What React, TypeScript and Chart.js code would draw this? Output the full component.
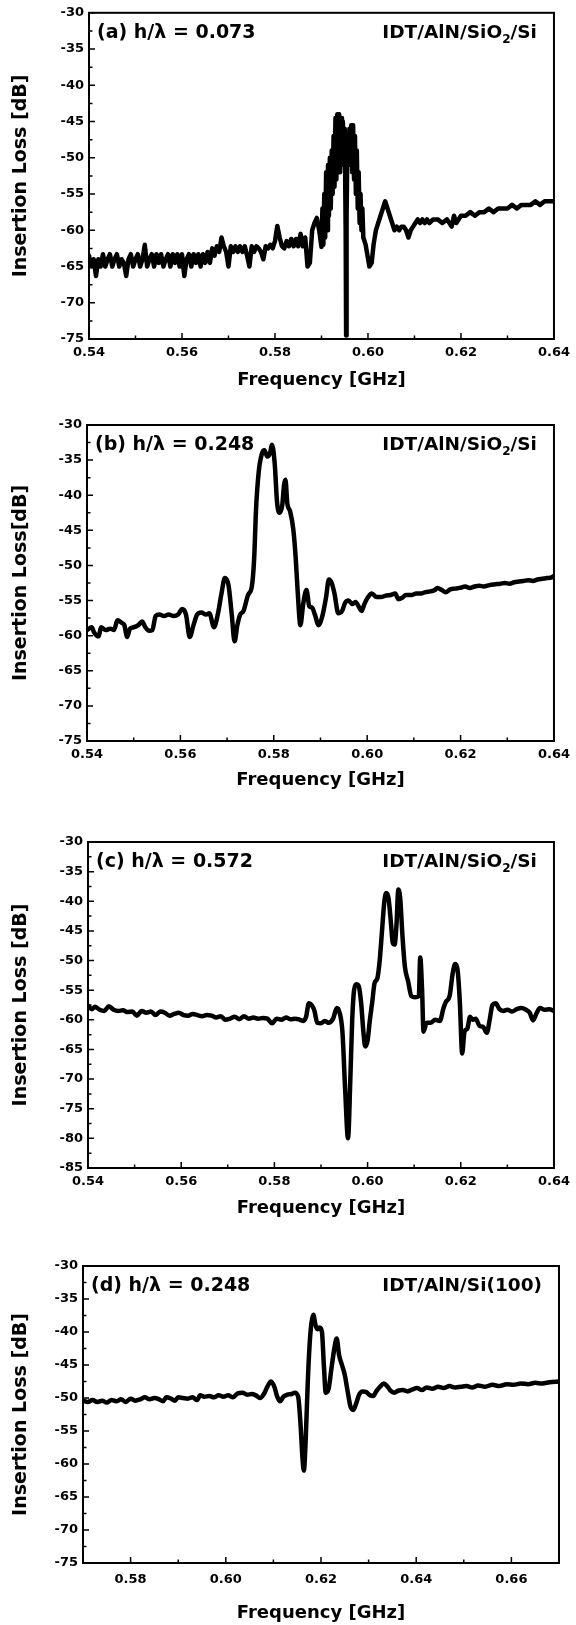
import React, { useEffect, useRef } from "react";
import { Chart, registerables } from "chart.js";

Chart.register(...registerables);

// ---------------- Data ----------------
const freqA = [
  0.5400, 0.5405, 0.5410, 0.5415, 0.5420, 0.5425, 0.5430, 0.5435, 0.5440, 0.5445,
  0.5450, 0.5455, 0.5460, 0.5465, 0.5470, 0.5475, 0.5480, 0.5485, 0.5490, 0.5495,
  0.5500, 0.5505, 0.5510, 0.5515, 0.5520, 0.5525, 0.5530, 0.5535, 0.5540, 0.5545,
  0.5550, 0.5555, 0.5560, 0.5565, 0.5570, 0.5575, 0.5580, 0.5585, 0.5590, 0.5595,
  0.5600, 0.5605, 0.5610, 0.5615, 0.5620, 0.5625, 0.5630, 0.5635, 0.5640, 0.5645,
  0.5650, 0.5655, 0.5660, 0.5665, 0.5670, 0.5675, 0.5680, 0.5685, 0.5690, 0.5695,
  0.5700, 0.5705, 0.5710, 0.5715, 0.5720, 0.5725, 0.5730, 0.5735, 0.5740, 0.5745,
  0.5750, 0.5755, 0.5760, 0.5765, 0.5770, 0.5775, 0.5780, 0.5785, 0.5790, 0.5795,
  0.5800, 0.5805, 0.5810, 0.5815, 0.5820, 0.5825, 0.5830, 0.5835, 0.5840, 0.5845,
  0.5850, 0.5855, 0.5860, 0.5865, 0.5870, 0.5875, 0.5880, 0.5885, 0.5890, 0.5895,
  0.5900, 0.5902, 0.5904, 0.5906, 0.5908, 0.5910, 0.5912, 0.5914, 0.5916, 0.5918,
  0.5920, 0.5922, 0.5924, 0.5926, 0.5928, 0.5930, 0.5932, 0.5934, 0.5936, 0.5938,
  0.5940, 0.5942, 0.5944, 0.5946, 0.5948, 0.5950, 0.5952, 0.5953, 0.5954, 0.5956,
  0.5958, 0.5960, 0.5962, 0.5964, 0.5966, 0.5968, 0.5970, 0.5972, 0.5974, 0.5976,
  0.5978, 0.5980, 0.5982, 0.5984, 0.5986, 0.5988, 0.5990, 0.5995, 0.5999, 0.6003,
  0.6008, 0.6012, 0.6017, 0.6022, 0.6027, 0.6032, 0.6037, 0.6042, 0.6047,
  0.6052, 0.6057, 0.6062, 0.6067, 0.6072, 0.6077, 0.6082, 0.6087, 0.6092, 0.6097,
  0.6102, 0.6107, 0.6112, 0.6117, 0.6122, 0.6127, 0.6132, 0.6140, 0.6150, 0.6160,
  0.6170, 0.6180, 0.6185, 0.6190, 0.6200, 0.6210, 0.6220, 0.6230, 0.6240, 0.6250,
  0.6260, 0.6270, 0.6280, 0.6290, 0.6300, 0.6310, 0.6320, 0.6330, 0.6340, 0.6350,
  0.6360, 0.6370, 0.6380, 0.6390, 0.6400,
];
const lossA = [
  -63.5, -65, -64, -66.3, -64, -65, -63.3, -65, -64, -63.3,
  -65, -64, -63.3, -65, -64, -64.5, -66.3, -64, -63.3, -65,
  -64, -63.3, -65, -64, -62, -65, -64, -63.3, -65, -63.3,
  -64.5, -63.3, -65, -64, -63.3, -65, -63.3, -64.5, -63.3, -65,
  -63.3, -66.3, -64, -63.3, -65, -63.3, -64.5, -63.3, -65, -63.3,
  -64.5, -63, -64.5, -62.5, -63.5, -62.2, -63, -61, -62.2, -63,
  -65, -62.2, -63, -62.2, -63, -62.2, -63, -62.2, -63.5, -65,
  -62.2, -63, -62.2, -62.5, -63, -64, -62.2, -62.5, -62, -62.5,
  -61.5, -59.4, -61, -62.2, -62.5, -61.5, -62.2, -61.2, -62.2, -61.2,
  -62.2, -60.5, -62.2, -61, -65, -64.5, -60, -59, -58.3, -60,
  -62.3, -57, -62, -55, -61, -52, -60, -51, -58, -50,
  -57, -49, -55, -47, -54, -44.5, -53, -44, -52, -44,
  -52, -44.5, -51, -45, -51, -46, -60, -74.5, -58, -47,
  -51, -46, -51, -45.5, -52, -45.5, -53, -47, -55, -49,
  -57, -52, -59, -55, -60, -57, -61, -62, -63.5, -65,
  -64.5, -62, -60, -59, -58, -57, -56, -57, -58,
  -59, -60, -59.5, -60, -59.5, -59.5, -60, -61, -60, -59.5,
  -59, -58.5, -59, -58.5, -59, -58.5, -59, -58.5, -58.5, -59,
  -58.5, -59.5, -58, -59, -58, -58, -57.5, -58, -57.5, -57.5,
  -57, -57.5, -57, -57, -57, -56.5, -57, -56.5, -56.5, -56.5,
  -56, -56.5, -56, -56, -56,
];

const freqB = [
  0.5400, 0.5410, 0.5415, 0.5425, 0.5430, 0.5440, 0.5450, 0.5458, 0.5465, 0.5475,
  0.5480, 0.5486, 0.5492, 0.5500, 0.5510, 0.5518, 0.5525, 0.5533, 0.5540, 0.5547,
  0.5555, 0.5565, 0.5575, 0.5585, 0.5595, 0.5604, 0.5612, 0.5620, 0.5628, 0.5636,
  0.5645, 0.5655, 0.5662, 0.5672, 0.5680, 0.5688, 0.5695, 0.5703, 0.5710, 0.5716,
  0.5722, 0.5728, 0.5735, 0.5745, 0.5753, 0.5758, 0.5762, 0.5768, 0.5775, 0.5780,
  0.5786, 0.5792, 0.5796, 0.5802, 0.5807, 0.5812, 0.5818, 0.5822, 0.5825, 0.5829,
  0.5835, 0.5842, 0.5847, 0.5851, 0.5857, 0.5863, 0.5870, 0.5876, 0.5882, 0.5888,
  0.5896, 0.5904, 0.5912, 0.5918, 0.5924, 0.5930, 0.5938, 0.5946, 0.5953, 0.5960,
  0.5968, 0.5975, 0.5983, 0.5988, 0.5994, 0.6002, 0.6010, 0.6020, 0.6030, 0.6040,
  0.6050, 0.6060, 0.6067, 0.6075, 0.6083, 0.6095, 0.6105, 0.6115, 0.6125, 0.6135,
  0.6145, 0.6150, 0.6160, 0.6168, 0.6178, 0.6188, 0.6198, 0.6210, 0.6220, 0.6230,
  0.6240, 0.6250, 0.6262, 0.6272, 0.6285, 0.6295, 0.6305, 0.6315, 0.6325, 0.6335,
  0.6345, 0.6355, 0.6365, 0.6375, 0.6385, 0.6395, 0.6400,
];
const lossB = [
  -59.2, -58.8, -59.5, -60.1, -58.8, -59.2, -59, -59.2, -57.8, -58.2,
  -58.5, -60.2, -59, -58.8, -58.5, -58, -58.8, -59.3, -59.2, -57.2,
  -57, -57.2, -57, -57.2, -57, -56.2, -57, -60.2, -58.5, -57,
  -56.7, -57, -56.8, -58.8, -57, -54, -51.8, -52.8, -57, -60.8,
  -58.5, -57, -56.5, -54.2, -53, -49, -42, -36.5, -34, -33.6,
  -34.5, -34, -32.8, -35.5, -41, -42.5, -41.5, -38.5, -37.8, -41.2,
  -42.3, -45, -49, -53.5, -58.5, -55.5, -53.5, -55.8, -56, -57,
  -58.5, -57.2, -54.5, -52, -52.5, -54, -56.8, -56.5, -55.3, -55,
  -55.5, -55.2, -56, -56.5, -55.5, -54.5, -54, -54.5, -54.5, -54.3,
  -54.2, -54, -54.8, -54.6, -54.2, -54.2, -54, -54, -53.8, -53.7,
  -53.5, -53.2, -53.5, -53.8, -53.4, -53.3, -53.2, -53, -53.2, -53,
  -52.9, -53, -52.8, -52.7, -52.6, -52.5, -52.6, -52.4, -52.3, -52.2,
  -52.1, -52.2, -52, -51.9, -51.8, -51.7, -51.5,
];

const freqC = [
  0.5400, 0.5408, 0.5415, 0.5425, 0.5435, 0.5445, 0.5455, 0.5465, 0.5475, 0.5485,
  0.5495, 0.5505, 0.5515, 0.5525, 0.5535, 0.5545, 0.5555, 0.5565, 0.5575, 0.5585,
  0.5595, 0.5605, 0.5615, 0.5625, 0.5635, 0.5645, 0.5655, 0.5665, 0.5675, 0.5685,
  0.5695, 0.5705, 0.5715, 0.5725, 0.5735, 0.5745, 0.5755, 0.5765, 0.5775, 0.5785,
  0.5795, 0.5805, 0.5815, 0.5825, 0.5835, 0.5845, 0.5855, 0.5862, 0.5868, 0.5874,
  0.5880, 0.5886, 0.5892, 0.5900, 0.5908, 0.5916, 0.5926, 0.5934, 0.5940, 0.5946,
  0.5952, 0.5958, 0.5963, 0.5967, 0.5971, 0.5976, 0.5981, 0.5986, 0.5991, 0.5995,
  0.6000, 0.6005, 0.6010, 0.6015, 0.6021, 0.6026, 0.6031, 0.6036, 0.6040, 0.6045,
  0.6050, 0.6054, 0.6058, 0.6062, 0.6066, 0.6070, 0.6075, 0.6080, 0.6087, 0.6094,
  0.6102, 0.6110, 0.6113, 0.6117, 0.6120, 0.6127, 0.6135, 0.6145, 0.6155, 0.6163,
  0.6168, 0.6176, 0.6183, 0.6188, 0.6193, 0.6198, 0.6203, 0.6208, 0.6214, 0.6220,
  0.6226, 0.6232, 0.6240, 0.6248, 0.6256, 0.6262, 0.6268, 0.6275, 0.6283, 0.6291,
  0.6300, 0.6310, 0.6320, 0.6330, 0.6340, 0.6348, 0.6355, 0.6362, 0.6370, 0.6380,
  0.6390, 0.6400,
];
const lossC = [
  -57.6, -58.2, -57.8, -58.3, -58.5, -57.7, -58.3, -58.5, -58.4, -58.7,
  -58.6, -59.3, -58.5, -58.8, -58.6, -59.2, -58.6, -58.8, -59.3, -59,
  -58.8, -59.2, -59.3, -59, -59.2, -59.4, -59.2, -59.3, -59.6, -59.4,
  -60, -59.8, -59.5, -59.9, -59.4, -59.8, -59.6, -59.8, -59.7, -59.8,
  -60.6, -59.8, -60, -59.6, -59.9, -59.8, -60, -60.2, -59.5, -57.2,
  -57.5, -58.5, -60.5, -60.6, -60.2, -60.5, -59.8, -58, -58.8, -62,
  -72, -80, -70, -60, -55, -54, -54.3, -57, -62, -64.5,
  -63.5, -60, -57, -53.8, -53, -50, -45, -40, -38.6, -39.5,
  -43.5, -47, -47.3, -44, -38, -39.5, -46, -51, -53.5, -56,
  -56.2, -56, -49.5, -55, -62, -60.5, -60.5, -60, -60.2, -58,
  -57, -56, -52, -50.6, -51.5, -57, -65.7, -62, -61.5, -59.5,
  -60, -59.8, -61, -61.2, -62.2, -60, -57.5, -57.2, -58.2, -58.5,
  -58.3, -58.6, -58.2, -58, -58.3, -58.8, -60.1, -59, -58, -58.3,
  -58.2, -58.5,
];

const freqD = [
  0.5700, 0.5710, 0.5720, 0.5730, 0.5740, 0.5750, 0.5760, 0.5770, 0.5780, 0.5790,
  0.5800, 0.5810, 0.5820, 0.5830, 0.5840, 0.5850, 0.5860, 0.5868, 0.5875, 0.5885,
  0.5893, 0.5900, 0.5910, 0.5920, 0.5930, 0.5940, 0.5946, 0.5955, 0.5965, 0.5975,
  0.5985, 0.5995, 0.6005, 0.6015, 0.6025, 0.6035, 0.6045, 0.6055, 0.6063, 0.6072,
  0.6080, 0.6088, 0.6095, 0.6102, 0.6108, 0.6114, 0.6121, 0.6129, 0.6138, 0.6145,
  0.6152, 0.6157, 0.6161, 0.6164, 0.6168, 0.6172, 0.6176, 0.6180, 0.6184, 0.6188,
  0.6192, 0.6197, 0.6202, 0.6206, 0.6210, 0.6216, 0.6222, 0.6228, 0.6233, 0.6238,
  0.6244, 0.6250, 0.6256, 0.6262, 0.6268, 0.6274, 0.6280, 0.6287, 0.6295, 0.6303,
  0.6310, 0.6316, 0.6324, 0.6332, 0.6340, 0.6346, 0.6354, 0.6362, 0.6372, 0.6382,
  0.6392, 0.6402, 0.6412, 0.6422, 0.6434, 0.6446, 0.6458, 0.6470, 0.6482, 0.6494,
  0.6506, 0.6518, 0.6530, 0.6545, 0.6560, 0.6575, 0.6590, 0.6605, 0.6620, 0.6635,
  0.6650, 0.6665, 0.6680, 0.6700,
];
const lossD = [
  -50.4, -50.6, -50.3, -50.6, -50.4, -50.7, -50.3, -50.5, -50.2, -50.6,
  -50.1, -50.4, -50.2, -49.9, -50.2, -50, -50.2, -50.5, -49.9, -50.1,
  -50.4, -49.9, -50, -50.1, -49.9, -50.3, -49.6, -49.8, -49.7, -49.9,
  -49.6, -49.8, -49.6, -49.9, -49.3, -49.2, -49.5, -49.4, -49.6, -50,
  -49.4, -48.2, -47.5, -48.3, -49.8, -50.5, -49.8, -49.5, -49.4, -49.2,
  -49.8, -54, -59, -61, -56, -48, -42, -38.6, -37.4, -38.8,
  -39.6, -39.3, -40, -45, -49.2, -48.6, -45.5, -42.5, -41, -43.5,
  -45, -46.5, -49, -51.3, -51.8, -50.8, -49.5, -49, -49.1, -49.6,
  -49.7, -49, -48.3, -47.8, -48.3, -48.9, -49.2, -48.9, -48.8, -49,
  -48.7, -48.5, -48.8, -48.4, -48.6, -48.3, -48.5, -48.2, -48.4, -48.3,
  -48.2, -48.4, -48.1, -48.3, -48, -48.2, -47.9, -48, -47.8, -47.9,
  -47.7, -47.8, -47.6, -47.5,
];

// Tick labels
const xTicksABC = [0.54, 0.56, 0.58, 0.6, 0.62, 0.64];
const xTicksD = [0.58, 0.6, 0.62, 0.64, 0.66];
const yTicks75 = [-75, -70, -65, -60, -55, -50, -45, -40, -35, -30];
const yTicks85 = [-85, -80, -75, -70, -65, -60, -55, -50, -45, -40, -35, -30];

// Texts
const xTitle = "Frequency [GHz]";
const yTitle = "Insertion Loss [dB]";
const yTitleB = "Insertion Loss[dB]";
const labelA = "(a) h/\u03bb = 0.073";
const labelB = "(b) h/\u03bb = 0.248";
const labelC = "(c) h/\u03bb = 0.572";
const labelD = "(d) h/\u03bb = 0.248";
const structSiO2: [string, boolean][] = [["IDT/AlN/SiO", false], ["2", true], ["/Si", false]];
const structSi: [string, boolean][] = [["IDT/AlN/Si(100)", false]];

const FONT = '"DejaVu Sans", "Liberation Sans", Arial, sans-serif';

type PanelSpec = {
  freq: number[];
  loss: number[];
  xMin: number;
  xMax: number;
  xTicks: number[];
  yMin: number;
  yTicks: number[];
  yTitle: string;
  label: string;
  struct: [string, boolean][];
  smooth: boolean;
  canvasTop: number;
  canvasHeight: number;
  areaLeft: number;
  areaRight: number;
  areaTop: number;
  areaBottom: number;
  xTickPad: number;
  xTitlePad: number;
  yTitlePad: number;
};

const panels: PanelSpec[] = [
  {
    freq: freqA, loss: lossA, xMin: 0.54, xMax: 0.64, xTicks: xTicksABC, yMin: -75, yTicks: yTicks75,
    yTitle, label: labelA, struct: structSiO2, smooth: false,
    canvasTop: 0, canvasHeight: 400, areaLeft: 89, areaRight: 559, areaTop: 12, areaBottom: 339,
    xTickPad: 6, xTitlePad: 9, yTitlePad: 10,
  },
  {
    freq: freqB, loss: lossB, xMin: 0.54, xMax: 0.64, xTicks: xTicksABC, yMin: -75, yTicks: yTicks75,
    yTitle: yTitleB, label: labelB, struct: structSiO2, smooth: true,
    canvasTop: 400, canvasHeight: 410, areaLeft: 87, areaRight: 559, areaTop: 25, areaBottom: 341,
    xTickPad: 6, xTitlePad: 19, yTitlePad: 10,
  },
  {
    freq: freqC, loss: lossC, xMin: 0.54, xMax: 0.64, xTicks: xTicksABC, yMin: -85, yTicks: yTicks85,
    yTitle, label: labelC, struct: structSiO2, smooth: true,
    canvasTop: 810, canvasHeight: 410, areaLeft: 88, areaRight: 559, areaTop: 32, areaBottom: 358,
    xTickPad: 6, xTitlePad: 1, yTitlePad: 10,
  },
  {
    freq: freqD, loss: lossD, xMin: 0.57, xMax: 0.67, xTicks: xTicksD, yMin: -75, yTicks: yTicks75,
    yTitle, label: labelD, struct: structSi, smooth: true,
    canvasTop: 1220, canvasHeight: 405, areaLeft: 83, areaRight: 559, areaTop: 46, areaBottom: 343,
    xTickPad: 9, xTitlePad: 1, yTitlePad: 10,
  },
];

function midpoints(vals: number[], min: number, max: number): number[] {
  const sorted = [...vals].sort((a, b) => a - b);
  const out: number[] = [];
  if (sorted.length < 2) return out;
  const step = sorted[1] - sorted[0];
  for (let v = sorted[0] - step / 2; v <= max + 1e-9; v += step) {
    if (v > min + 1e-9 && v < max - 1e-9) out.push(v);
  }
  return out;
}

const decoPlugin = {
  id: "panelDeco",
  afterDatasetsDraw(chart: any, _args: any, opts: any) {
    const { ctx, chartArea } = chart;
    const { left, right, top, bottom } = chartArea;
    const xs = chart.scales.x;
    const ys = chart.scales.y;
    ctx.save();
    ctx.strokeStyle = "#000";
    ctx.lineWidth = 1.5;
    ctx.beginPath();
    const xMaj = xs.ticks.map((t: any) => t.value);
    xMaj.forEach((v: number) => {
      const px = xs.getPixelForValue(v);
      ctx.moveTo(px, bottom);
      ctx.lineTo(px, bottom - 6);
    });
    midpoints(xMaj, xs.min, xs.max).forEach((v) => {
      const px = xs.getPixelForValue(v);
      ctx.moveTo(px, bottom);
      ctx.lineTo(px, bottom - 3.5);
    });
    const yMaj = ys.ticks.map((t: any) => t.value);
    yMaj.forEach((v: number) => {
      const py = ys.getPixelForValue(v);
      ctx.moveTo(left, py);
      ctx.lineTo(left + 6, py);
    });
    midpoints(yMaj, ys.min, ys.max).forEach((v) => {
      const py = ys.getPixelForValue(v);
      ctx.moveTo(left, py);
      ctx.lineTo(left + 3.5, py);
    });
    ctx.stroke();
    ctx.lineWidth = 2;
    ctx.strokeRect(left, top, right - left, bottom - top);

    // annotations
    ctx.fillStyle = "#000";
    ctx.textBaseline = "middle";
    ctx.textAlign = "left";
    ctx.font = `bold 19px ${FONT}`;
    ctx.fillText(opts.label, left + 8, top + 20);
    const mainFont = `bold 18.5px ${FONT}`;
    const subFont = `bold 12px ${FONT}`;
    const segs: [string, boolean][] = opts.struct;
    let total = 0;
    segs.forEach(([t, sub]) => {
      ctx.font = sub ? subFont : mainFont;
      total += ctx.measureText(t).width;
    });
    let x = right - 17 - total;
    segs.forEach(([t, sub]) => {
      ctx.font = sub ? subFont : mainFont;
      ctx.fillText(t, x, top + 20 + (sub ? 7 : 0));
      x += ctx.measureText(t).width;
    });
    ctx.restore();
  },
};

function buildConfig(p: PanelSpec): any {
  const data = p.freq.map((f, i) => ({ x: f, y: p.loss[i] }));
  const tickFont = { family: FONT, size: 13, weight: "bold" as const };
  const xTitleFont = { family: FONT, size: 18, weight: "bold" as const };
  const yTitleFont = { family: FONT, size: 19, weight: "bold" as const };
  return {
    type: "line",
    data: {
      datasets: [
        {
          data,
          borderColor: "#000",
          backgroundColor: "#000",
          borderWidth: 4.5,
          pointRadius: 0,
          tension: 0,
          cubicInterpolationMode: p.smooth ? "monotone" : "default",
          borderJoinStyle: "round",
          borderCapStyle: "round",
          fill: false,
        },
      ],
    },
    options: {
      responsive: false,
      animation: false,
      events: [],
      layout: { padding: { left: 0, top: p.areaTop, right: 576 - p.areaRight, bottom: 0 } },
      plugins: {
        legend: { display: false },
        tooltip: { enabled: false },
        panelDeco: { label: p.label, struct: p.struct },
      },
      scales: {
        x: {
          type: "linear",
          min: p.xMin,
          max: p.xMax,
          grid: { display: false, drawTicks: false },
          border: { display: false },
          afterBuildTicks: (s: any) => {
            s.ticks = p.xTicks.map((v) => ({ value: v }));
          },
          afterFit: (s: any) => {
            s.height = p.canvasHeight - p.areaBottom;
          },
          ticks: {
            font: tickFont,
            color: "#000",
            padding: p.xTickPad,
            maxRotation: 0,
            autoSkip: false,
            callback: (v: any) => Number(v).toFixed(2),
          },
          title: {
            display: true,
            text: xTitle,
            font: xTitleFont,
            color: "#000",
            padding: { top: 0, bottom: p.xTitlePad },
          },
        },
        y: {
          type: "linear",
          min: p.yMin,
          max: -30,
          grid: { display: false, drawTicks: false },
          border: { display: false },
          afterBuildTicks: (s: any) => {
            s.ticks = p.yTicks.map((v) => ({ value: v }));
          },
          afterFit: (s: any) => {
            s.width = p.areaLeft;
          },
          ticks: {
            font: tickFont,
            color: "#000",
            padding: 5,
            autoSkip: false,
            callback: (v: any) => String(v),
          },
          title: {
            display: true,
            text: p.yTitle,
            font: yTitleFont,
            color: "#000",
            padding: { top: p.yTitlePad, bottom: 0 },
          },
        },
      },
    },
    plugins: [decoPlugin],
  };
}

function Panel({ spec }: { spec: PanelSpec }) {
  const ref = useRef<HTMLCanvasElement | null>(null);
  useEffect(() => {
    if (!ref.current) return;
    const chart = new Chart(ref.current, buildConfig(spec));
    return () => chart.destroy();
  }, [spec]);
  return (
    <canvas
      ref={ref}
      width={576}
      height={spec.canvasHeight}
      style={{ position: "absolute", left: 0, top: spec.canvasTop, width: 576, height: spec.canvasHeight }}
    />
  );
}

export default function App() {
  return (
    <div style={{ position: "absolute", left: 0, top: 0, width: 576, height: 1625, background: "#fff" }}>
      {panels.map((p, i) => (
        <Panel key={i} spec={p} />
      ))}
    </div>
  );
}
